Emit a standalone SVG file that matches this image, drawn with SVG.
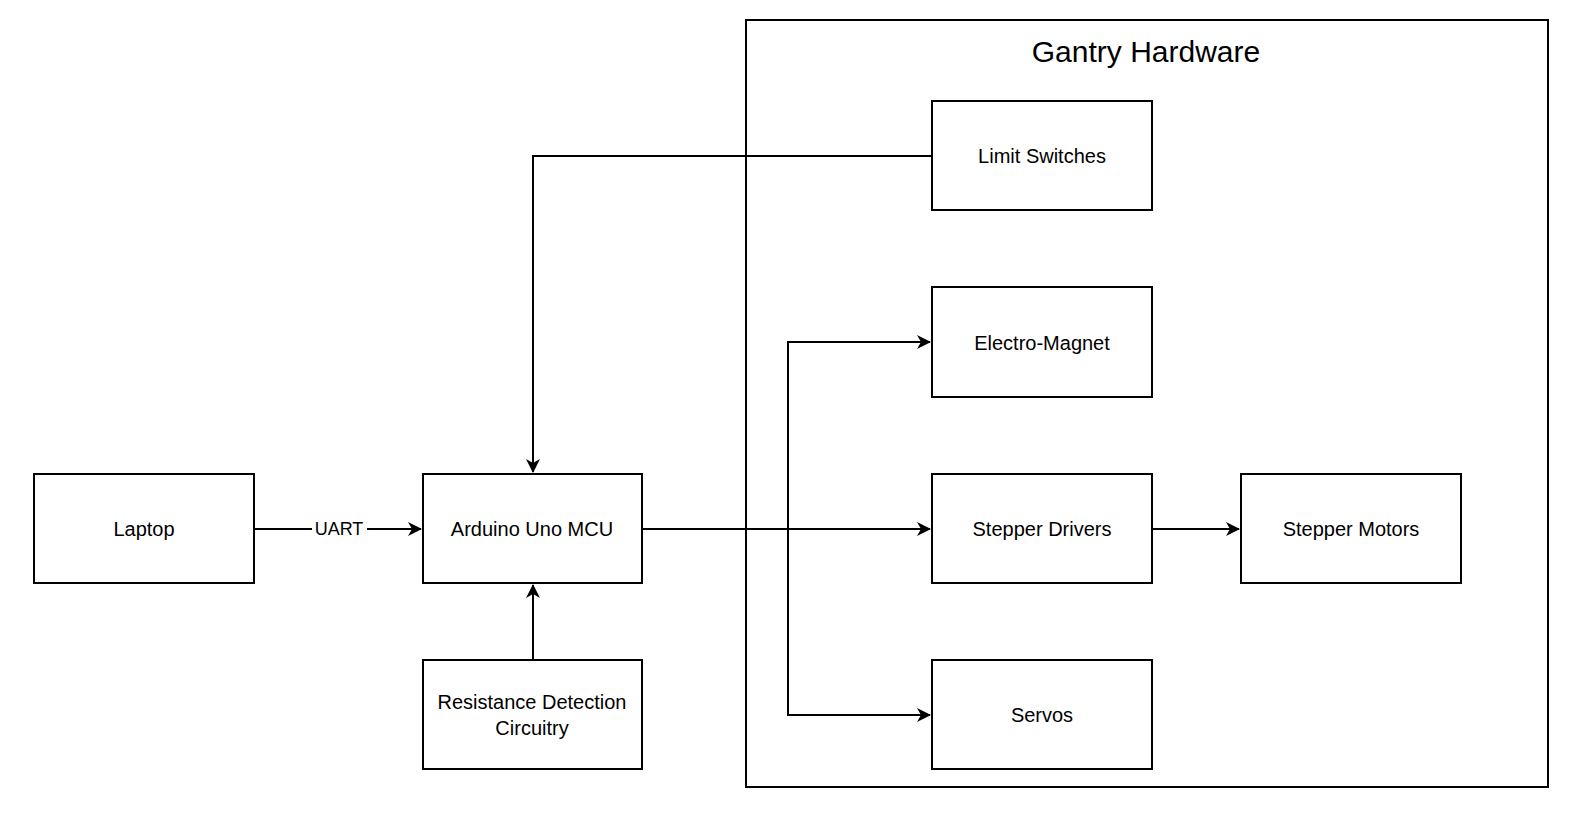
<svg xmlns="http://www.w3.org/2000/svg" width="1589" height="827" viewBox="0 0 1589 827">
<style>
.n{fill:#fff;stroke:#000;stroke-width:2}
.t{font-family:"Liberation Sans",Arial,sans-serif;font-size:20px;text-anchor:middle;fill:#000}
.c{fill:none;stroke:#000;stroke-width:2}
</style>
<defs><marker id="a" markerWidth="10" markerHeight="10" refX="9" refY="5" orient="auto" markerUnits="userSpaceOnUse"><path d="M0,0 L10,5 L0,10 L3,5 Z" fill="#000"/></marker>
<marker id="b" markerWidth="14" markerHeight="14" refX="13" refY="7" orient="auto" markerUnits="userSpaceOnUse"><path d="M0,0 L14,7 L0,14 L4,7 Z" fill="#000"/></marker></defs>
<rect width="1589" height="827" fill="#fff"/>
<g id="gantry"><rect x="746" y="20" width="802" height="767" class="n"/><text x="1146" y="62" class="t" style="font-size:30px">Gantry Hardware</text></g>
<g id="connectors">
<path d="M932,156 H533 V472" class="c" marker-end="url(#b)"/>
<path d="M254,529 H312 M367,529 H421" class="c" marker-end="url(#b)"/>
<text x="339" y="535" class="t" style="font-size:18px">UART</text>
<path d="M533,660 V585" class="c" marker-end="url(#b)"/>
<path d="M642,529 H930" class="c" marker-end="url(#b)"/>
<path d="M788,529 V342 H930" class="c" marker-end="url(#b)"/>
<path d="M788,529 V715 H930" class="c" marker-end="url(#b)"/>
<path d="M1152,529 H1239" class="c" marker-end="url(#b)"/>
</g>
<g id="limit"><rect x="932" y="101" width="220" height="109" class="n"/><text x="1042" y="163" class="t">Limit Switches</text></g>
<g id="magnet"><rect x="932" y="287" width="220" height="110" class="n"/><text x="1042" y="350" class="t">Electro-Magnet</text></g>
<g id="drivers"><rect x="932" y="474" width="220" height="109" class="n"/><text x="1042" y="536" class="t">Stepper Drivers</text></g>
<g id="servos"><rect x="932" y="660" width="220" height="109" class="n"/><text x="1042" y="722" class="t">Servos</text></g>
<g id="motors"><rect x="1241" y="474" width="220" height="109" class="n"/><text x="1351" y="536" class="t">Stepper Motors</text></g>
<g id="laptop"><rect x="34" y="474" width="220" height="109" class="n"/><text x="144" y="536" class="t">Laptop</text></g>
<g id="arduino"><rect x="423" y="474" width="219" height="109" class="n"/><text x="532" y="536" class="t">Arduino Uno MCU</text></g>
<g id="resistance"><rect x="423" y="660" width="219" height="109" class="n"/><text x="532" y="709" class="t">Resistance Detection</text><text x="532" y="735" class="t">Circuitry</text></g>
</svg>
